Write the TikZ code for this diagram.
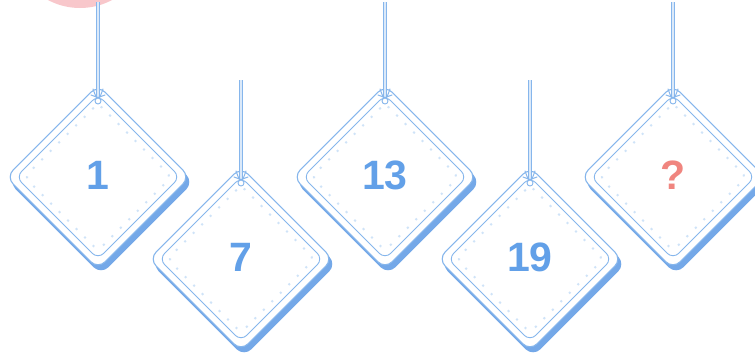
\documentclass[tikz,border=0pt]{standalone}
\usepackage{fontspec}
\setmainfont{Liberation Sans}
\usetikzlibrary{calc}
\definecolor{tagline}{HTML}{86B6EC}
\definecolor{tagshade}{HTML}{74A8E8}
\definecolor{tagdot}{HTML}{CFE3F8}
\definecolor{numblue}{HTML}{62A0E8}
\definecolor{qpink}{HTML}{F0857F}
\definecolor{pinkball}{HTML}{F8C7CB}
\tikzset{
  tagshadow/.style={rectangle, rotate=45, minimum size=130pt, rounded corners=10pt, fill=tagshade, draw=tagshade, line width=1pt},
  tagouter/.style={rectangle, rotate=45, minimum size=130pt, rounded corners=10pt, fill=white, draw=tagline, line width=1.1pt},
  taginner/.style={rectangle, rotate=45, minimum size=116pt, rounded corners=8pt, draw=tagline, line width=0.9pt},
  tagdots/.style={rectangle, rotate=45, minimum size=104pt, rounded corners=6pt, draw=tagdot, line width=2pt, dash pattern=on 2pt off 10pt},
  num/.style={font=\bfseries\fontsize{41}{41}\selectfont, text=numblue, inner sep=0pt},
  hangstring/.style={draw=tagline, line width=1pt, double=white!70!tagline, double distance=1.4pt},
  knot/.style={draw=tagline, line width=1pt, line cap=round},
  hole/.style={circle, draw=tagline, fill=white, line width=0.9pt, minimum size=6pt, inner sep=0pt}
}
\newcommand{\hangtag}[6]{%
  \node[tagshadow] (#1s) at ({#2+3},{#3+5}) {};
  \node[tagouter] (#1) at (#2,#3) {};
  \node[taginner] (#1i) at (#1.center) {};
  \node[tagdots] (#1d) at (#1.center) {};
  \coordinate (#1top) at (#2,{#3-88});
  \node[hole] (#1h) at (#2,{#3-76}) {};
  \coordinate (#1st) at (#2,#6);
  \draw[hangstring] (#1st) -- (#1h.north);
  \draw[knot] ($(#1top)+(-7,6)$) -- (#1h.north) -- ($(#1top)+(7,6)$);
  \draw[knot] ($(#1top)+(-5,0)$) -- ($(#1top)+(-2,8)$);
  \draw[knot] ($(#1top)+(5,0)$) -- ($(#1top)+(2,8)$);
  \node[num, text=#5] (#1n) at (#2,{#3-2}) {#4};
}
\begin{document}
\begin{tikzpicture}[x=1pt,y=-1pt]
\useasboundingbox (0,0) rectangle (755,354);
\clip (0,0) rectangle (755,354);
\fill[pinkball] (80,-60) circle (68);
\hangtag{ta}{98}{177}{1}{numblue}{2}
\hangtag{tb}{241}{259}{7}{numblue}{80}
\hangtag{tc}{385}{177}{13}{numblue}{2}
\hangtag{td}{530}{259}{19}{numblue}{80}
\hangtag{te}{673}{177}{?}{qpink}{2}
\end{tikzpicture}
\end{document}
